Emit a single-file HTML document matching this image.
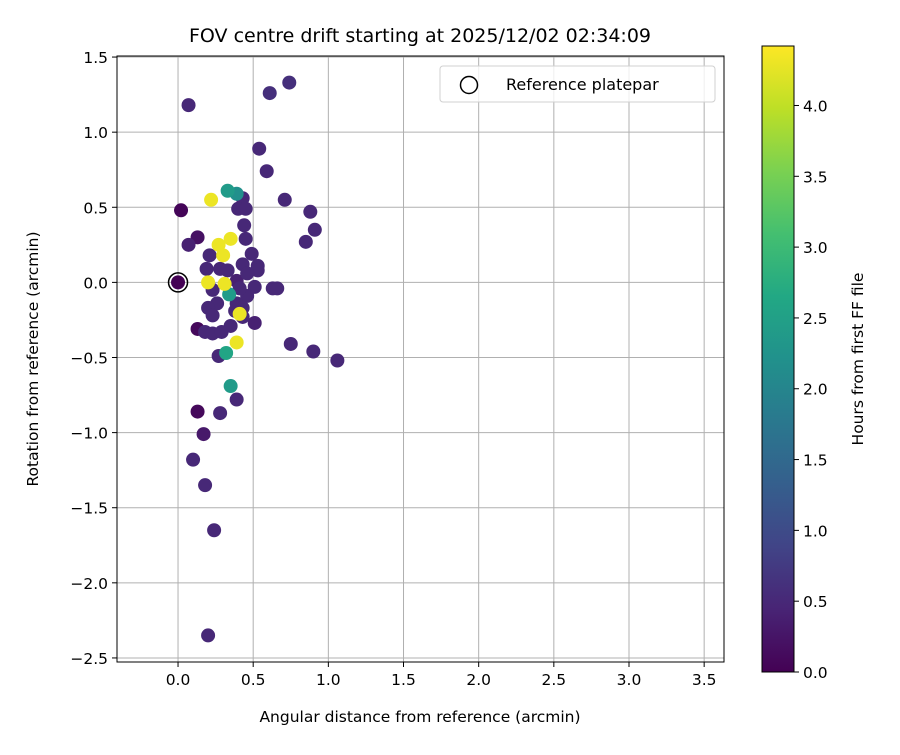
<!DOCTYPE html>
<html><head><meta charset="utf-8">
<style>
body{margin:0;background:#fff;}
svg text{font-family:"DejaVu Sans","Liberation Sans",sans-serif;fill:#000;}
</style></head>
<body>
<svg id="chart" width="900" height="750" xmlns="http://www.w3.org/2000/svg">
<defs>
<linearGradient id="vir" x1="0" y1="1" x2="0" y2="0">
<stop offset="0" stop-color="#440154"/><stop offset="0.1" stop-color="#482475"/>
<stop offset="0.2" stop-color="#414487"/><stop offset="0.3" stop-color="#355f8d"/>
<stop offset="0.4" stop-color="#2a788e"/><stop offset="0.5" stop-color="#21918c"/>
<stop offset="0.6" stop-color="#22a884"/><stop offset="0.7" stop-color="#44bf70"/>
<stop offset="0.8" stop-color="#7ad151"/><stop offset="0.9" stop-color="#bddf26"/>
<stop offset="1" stop-color="#fde725"/>
</linearGradient>
<clipPath id="clip"><rect x="117" y="56" width="607" height="606"/></clipPath>
</defs>
<g id="grid"></g>
<g id="points" clip-path="url(#clip)"></g>
<rect x="117" y="56" width="607" height="606" fill="none" stroke="#000" stroke-width="1"/>
<g id="ticks"></g>
<text x="420" y="42" style="font-size:19px" text-anchor="middle">FOV centre drift starting at 2025/12/02 02:34:09</text>
<text x="420" y="722" style="font-size:15.5px" text-anchor="middle">Angular distance from reference (arcmin)</text>
<text transform="translate(38,359) rotate(-90)" style="font-size:15.5px" text-anchor="middle">Rotation from reference (arcmin)</text>
<g>
<rect x="440" y="66" width="275" height="36" rx="3" fill="#fff" fill-opacity="0.8" stroke="#d0d0d0"/>
<circle cx="469" cy="85" r="8.5" fill="none" stroke="#000" stroke-width="1.5"/>
<text x="506" y="90" style="font-size:16px">Reference platepar</text>
</g>
<rect x="762" y="46" width="32" height="626" fill="url(#vir)" stroke="#000" stroke-width="1"/>
<g id="cbticks"></g>
<text transform="translate(863,359) rotate(-90)" style="font-size:15.5px" text-anchor="middle">Hours from first FF file</text>
</svg>
<script>
const xs=[0.07,0.61,0.74,0.54,0.59,0.71,0.88,0.91,0.85,0.02,0.13,0.07,0.63,0.66,0.51,0.75,0.90,1.06,0.13,0.27,0.35,0.13,0.28,0.39,0.17,0.10,0.18,0.24,0.20,
0.33,0.39,0.22,0.43,0.40,0.45,0.44,0.45,0.35,0.27,0.30,0.21,0.49,0.43,0.53,0.28,0.19,0.53,0.33,0.20,0.31,0.39,0.46,0.34,0.51,0.46,0.41,0.23,0.26,0.20,0.39,0.43,0.23,0.38,0.41,0.43,0.18,0.23,0.29,0.35,0.39,0.32];
const ys=[1.18,1.26,1.33,0.89,0.74,0.55,0.47,0.35,0.27,0.48,0.30,0.25,-0.04,-0.04,-0.27,-0.41,-0.46,-0.52,-0.31,-0.49,-0.69,-0.86,-0.87,-0.78,-1.01,-1.18,-1.35,-1.65,-2.35,
0.61,0.59,0.55,0.56,0.49,0.49,0.38,0.29,0.29,0.25,0.18,0.18,0.19,0.12,0.11,0.09,0.09,0.08,0.08,0.00,-0.01,0.01,0.06,-0.08,-0.03,-0.09,-0.04,-0.05,-0.14,-0.17,-0.14,-0.17,-0.22,-0.19,-0.21,-0.23,-0.33,-0.34,-0.33,-0.29,-0.40,-0.47];
const hours=[0.5,0.6,0.6,0.5,0.5,0.5,0.5,0.5,0.5,0.05,0.2,0.4,0.5,0.5,0.4,0.5,0.5,0.5,0.1,0.5,2.4,0.1,0.5,0.5,0.3,0.5,0.5,0.5,0.5,
2.4,2.2,4.3,0.5,0.5,0.5,0.5,0.5,4.3,4.3,4.3,0.5,0.5,0.5,0.5,0.5,0.5,0.5,0.5,4.3,4.3,0.4,0.5,2.4,0.5,0.5,0.5,0.5,0.5,0.5,0.5,0.5,0.5,0.5,4.3,0.5,0.5,0.5,0.5,0.5,4.3,2.6];
const refX=[0.0], refY=[0.0], refHours=[0.0];
const xTicks=[0,0.5,1,1.5,2,2.5,3,3.5];
const xTickLabels=["0.0","0.5","1.0","1.5","2.0","2.5","3.0","3.5"];
const yTicks=[1.5,1,0.5,0,-0.5,-1,-1.5,-2,-2.5];
const yTickLabels=["1.5","1.0","0.5","0.0","\u22120.5","\u22121.0","\u22121.5","\u22122.0","\u22122.5"];
const cTicks=[0,0.5,1,1.5,2,2.5,3,3.5,4];
const cTickLabels=["0.0","0.5","1.0","1.5","2.0","2.5","3.0","3.5","4.0"];

const NS="http://www.w3.org/2000/svg";
const X0=-0.406,X1=3.632,Y0=-2.527,Y1=1.507,HMAX=4.42;
const sx=v=>117+(v-X0)/(X1-X0)*607;
const sy=v=>56+(Y1-v)/(Y1-Y0)*606;
const sc=v=>672-v/HMAX*626;
const vir=["#440154","#482475","#414487","#355f8d","#2a788e","#21918c","#22a884","#44bf70","#7ad151","#bddf26","#fde725"];
function hex(c){return [1,3,5].map(i=>parseInt(c.substr(i,2),16));}
function color(h){let t=Math.max(0,Math.min(1,h/HMAX))*10;let i=Math.min(9,Math.floor(t)),f=t-i;
 const a=hex(vir[i]),b=hex(vir[i+1]);return "rgb("+a.map((v,k)=>Math.round(v+(b[k]-v)*f)).join(",")+")";}
function mk(tag,attrs,parent){const e=document.createElementNS(NS,tag);for(const k in attrs)e.setAttribute(k,attrs[k]);parent.appendChild(e);return e;}
const grid=document.getElementById('grid'),ticks=document.getElementById('ticks'),pts=document.getElementById('points'),cb=document.getElementById('cbticks');
xTicks.forEach((v,i)=>{
 const g=mk('line',{x1:sx(v),x2:sx(v),y1:56,y2:662,stroke:'#b0b0b0','stroke-width':1},grid);
 
 
 const t=mk('line',{x1:sx(v),x2:sx(v),y1:662,y2:667,stroke:'#000'},ticks);
 
 
 const l=mk('text',{x:sx(v),y:685,style:'font-size:15.5px','text-anchor':'middle'},ticks);l.textContent=xTickLabels[i];
 
 
});
yTicks.forEach((v,i)=>{
 const g=mk('line',{x1:117,x2:724,y1:sy(v),y2:sy(v),stroke:'#b0b0b0','stroke-width':1},grid);
 
 
 const t=mk('line',{x1:112,x2:117,y1:sy(v),y2:sy(v),stroke:'#000'},ticks);
 
 
 const l=mk('text',{x:108,y:sy(v)+6,style:'font-size:15.5px','text-anchor':'end'},ticks);l.textContent=yTickLabels[i];
 
 
});
cTicks.forEach((v,i)=>{
 const t=mk('line',{x1:794,x2:799,y1:sc(v),y2:sc(v),stroke:'#000'},cb);
 
 
 const l=mk('text',{x:803,y:sc(v)+6,style:'font-size:15.5px'},cb);l.textContent=cTickLabels[i];
 
 
});
const order=xs.map((_,i)=>i).sort((a,b)=>hours[a]-hours[b]);
order.forEach(i=>{
 const c=mk('circle',{cx:sx(xs[i]),cy:sy(ys[i]),r:7,fill:color(hours[i])},pts);
 
 
});
refX.forEach((v,i)=>{
 const c=mk('circle',{cx:sx(v),cy:sy(refY[i]),r:7,fill:color(refHours[i])},pts);
 
 
 const r=mk('circle',{cx:sx(v),cy:sy(refY[i]),r:9.5,fill:'none',stroke:'#000','stroke-width':1.5},pts);
 
 
});
</script>
</body></html>
